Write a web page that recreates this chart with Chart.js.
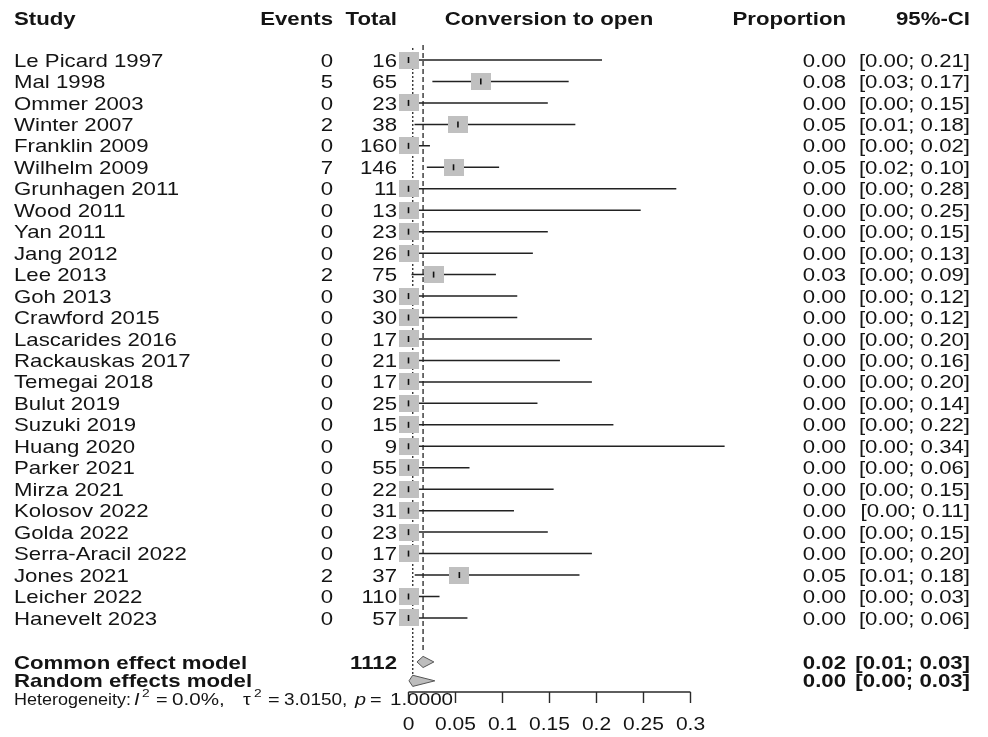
<!DOCTYPE html>
<html>
<head>
<meta charset="utf-8">
<script src="https://cdn.jsdelivr.net/npm/chart.js@4/dist/chart.umd.min.js"></script>
<style>
  body { margin: 0; background: #fff; }
</style>
</head>
<body>
<canvas id="forest" width="988" height="737"></canvas>
<script>
// study data
const studies = ['Le Picard 1997', 'Mal 1998', 'Ommer 2003', 'Winter 2007', 'Franklin 2009', 'Wilhelm 2009',
  'Grunhagen 2011', 'Wood 2011', 'Yan 2011', 'Jang 2012', 'Lee 2013', 'Goh 2013', 'Crawford 2015',
  'Lascarides 2016', 'Rackauskas 2017', 'Temegai 2018', 'Bulut 2019', 'Suzuki 2019', 'Huang 2020',
  'Parker 2021', 'Mirza 2021', 'Kolosov 2022', 'Golda 2022', 'Serra-Aracil 2022', 'Jones 2021',
  'Leicher 2022', 'Hanevelt 2023'];
const events = [0, 5, 0, 2, 0, 7, 0, 0, 0, 0, 2, 0, 0, 0, 0, 0, 0, 0, 0, 0, 0, 0, 0, 0, 2, 0, 0];
const totals = [16, 65, 23, 38, 160, 146, 11, 13, 23, 26, 75, 30, 30, 17, 21, 17, 25, 15, 9, 55, 22, 31, 23, 17, 37, 110, 57];
const props = [0, 0.0769, 0, 0.0526, 0, 0.0479, 0, 0, 0, 0, 0.0267, 0, 0, 0, 0, 0, 0, 0, 0, 0, 0, 0, 0, 0, 0.0541, 0, 0];
const lower = [0, 0.0254, 0, 0.0064, 0, 0.0195, 0, 0, 0, 0, 0.0032, 0, 0, 0, 0, 0, 0, 0, 0, 0, 0, 0, 0, 0, 0.0066, 0, 0];
const upper = [0.2059, 0.1704, 0.1482, 0.1775, 0.0228, 0.0964, 0.2849, 0.2470, 0.1482, 0.1323, 0.0930, 0.1157, 0.1157,
  0.1951, 0.1611, 0.1951, 0.1372, 0.2180, 0.3363, 0.0649, 0.1544, 0.1122, 0.1482, 0.1951, 0.1819, 0.0330, 0.0627];

// pooled estimates: [estimate, lower, upper]
const commonEffect = [0.0155, 0.009, 0.027];
const randomEffect = [0.0045, 0.0005, 0.028];
const totalN = 1112;
const hetI2 = '0.0%', hetTau2 = '3.0150', hetP = '1.0000';

const xTicks = [0, 0.05, 0.1, 0.15, 0.2, 0.25, 0.3];
const xTickLabels = ['0', '0.05', '0.1', '0.15', '0.2', '0.25', '0.3'];

// layout (rows on the y scale, 0 = first study)
const ROW_HEADER = -1.92, ROW_COMMON = 28.05, ROW_RANDOM = 28.93, ROW_HET = 29.76, ROW_AXIS = 29.45;
const SX = 1.2; // the reference text is stretched sideways
const TEXT_DY = 1.5;
const FONT = '18.5px "Liberation Sans", Arial, sans-serif';
const BOLD = 'bold 18.5px "Liberation Sans", Arial, sans-serif';
const INK = '#141414';

function fmt(v) { return v.toFixed(2); }
function ci(lo, hi) { return '[' + fmt(lo) + '; ' + fmt(hi) + ']'; }

function put(ctx, s, x, y, align, font, sx) {
  ctx.save();
  ctx.font = font;
  ctx.fillStyle = INK;
  ctx.textBaseline = 'middle';
  ctx.textAlign = align;
  ctx.translate(x, y + TEXT_DY);
  ctx.scale(sx || SX, 1);
  ctx.fillText(s, 0, 0);
  ctx.restore();
}

// grey weight box
const box = document.createElement('canvas');
box.width = 20; box.height = 17;
const bctx = box.getContext('2d');
bctx.fillStyle = '#c0c0c0';
bctx.fillRect(0, 0, 20, 17);

const ciData = [];
studies.forEach((s, i) => {
  ciData.push({x: lower[i], y: i}, {x: upper[i], y: i}, {x: null, y: null});
});
const estData = studies.map((s, i) => ({x: props[i], y: i}));

function diamond(d, row) {
  const h = 0.26;
  return [{x: d[1], y: row}, {x: d[0], y: row - h}, {x: d[2], y: row}, {x: d[0], y: row + h}, {x: d[1], y: row}];
}

const tablePlugin = {
  id: 'table',
  afterDraw(chart) {
    const ctx = chart.ctx;
    const xs = chart.scales.x, ys = chart.scales.y;
    const yH = ys.getPixelForValue(ROW_HEADER);

    put(ctx, 'Study', 14, yH, 'left', BOLD);
    put(ctx, 'Events', 333, yH, 'right', BOLD);
    put(ctx, 'Total', 397, yH, 'right', BOLD);
    put(ctx, 'Conversion to open', 549, yH, 'center', BOLD);
    put(ctx, 'Proportion', 846, yH, 'right', BOLD);
    put(ctx, '95%-CI', 970, yH, 'right', BOLD);

    studies.forEach((s, i) => {
      const y = ys.getPixelForValue(i);
      put(ctx, s, 14, y, 'left', FONT);
      put(ctx, String(events[i]), 333, y, 'right', FONT);
      put(ctx, String(totals[i]), 397, y, 'right', FONT);
      put(ctx, fmt(props[i]), 846, y, 'right', FONT);
      put(ctx, ci(lower[i], upper[i]), 970, y, 'right', FONT);
    });

    let y = ys.getPixelForValue(ROW_COMMON);
    put(ctx, 'Common effect model', 14, y, 'left', BOLD);
    put(ctx, String(totalN), 397, y, 'right', BOLD);
    put(ctx, fmt(commonEffect[0]), 846, y, 'right', BOLD);
    put(ctx, ci(commonEffect[1], commonEffect[2]), 970, y, 'right', BOLD);
    y = ys.getPixelForValue(ROW_RANDOM);
    put(ctx, 'Random effects model', 14, y, 'left', BOLD);
    put(ctx, fmt(randomEffect[0]), 846, y, 'right', BOLD);
    put(ctx, ci(randomEffect[1], randomEffect[2]), 970, y, 'right', BOLD);

    // heterogeneity line: [text, x, font, dy, sx]
    const f = '16.5px "Liberation Sans", Arial, sans-serif';
    const fi = 'italic 16.5px "Liberation Sans", Arial, sans-serif';
    const fs = '11.5px "Liberation Sans", Arial, sans-serif';
    const yh = ys.getPixelForValue(ROW_HET);
    [
      ['Heterogeneity:', 14, f, 0, 1.09], ['I', 134, fi, 0, 1.2], ['2', 142, fs, -6, 1.2],
      ['=', 156, f, 0, 1.2], [hetI2 + ',', 172, f, 0, 1.25],
      ['τ', 243, f, 0, 1.2], ['2', 254, fs, -6, 1.2],
      ['=', 268, f, 0, 1.2], [hetTau2 + ',', 284, f, 0, 1.15],
      ['p', 355, fi, 0, 1.2], ['=', 370, f, 0, 1.2], [hetP, 390, f, 0, 1.25]
    ].forEach(r => put(ctx, r[0], r[1], yh + r[3], 'left', r[2], r[4]));

    // x axis, R style
    const yA = ys.getPixelForValue(ROW_AXIS);
    ctx.save();
    ctx.strokeStyle = '#2a2a2a';
    ctx.lineWidth = 1.4;
    ctx.beginPath();
    ctx.moveTo(xs.getPixelForValue(xTicks[0]), yA);
    ctx.lineTo(xs.getPixelForValue(xTicks[xTicks.length - 1]), yA);
    xTicks.forEach(t => {
      const px = xs.getPixelForValue(t);
      ctx.moveTo(px, yA);
      ctx.lineTo(px, yA + 11);
    });
    ctx.stroke();
    ctx.restore();
    xTicks.forEach((t, i) => {
      put(ctx, xTickLabels[i], xs.getPixelForValue(t), yA + 32, 'center', '17.5px "Liberation Sans", Arial, sans-serif');
    });
  }
};

new Chart(document.getElementById('forest'), {
  type: 'scatter',
  data: {
    datasets: [
      {
        label: 'estimate',
        data: estData,
        pointStyle: 'line',
        rotation: 90,
        pointRadius: 3,
        borderWidth: 1.6,
        borderColor: '#111',
        order: 0
      },
      {
        label: 'weight',
        data: estData,
        pointStyle: box,
        pointRadius: 5,
        order: 1
      },
      {
        label: 'common',
        data: diamond(commonEffect, ROW_COMMON),
        showLine: true,
        fill: 'shape',
        backgroundColor: '#bdbdbd',
        borderColor: '#555',
        borderWidth: 1,
        pointRadius: 0,
        order: 1
      },
      {
        label: 'random',
        data: diamond(randomEffect, ROW_RANDOM),
        showLine: true,
        fill: 'shape',
        backgroundColor: '#bdbdbd',
        borderColor: '#555',
        borderWidth: 1,
        pointRadius: 0,
        order: 1
      },
      {
        label: 'ci',
        data: ciData,
        showLine: true,
        spanGaps: false,
        pointRadius: 0,
        borderColor: '#222',
        borderWidth: 1.5,
        order: 2
      },
      {
        label: 'common line',
        data: [{x: commonEffect[0], y: -0.7}, {x: commonEffect[0], y: 27.63}],
        showLine: true,
        pointRadius: 0,
        borderColor: '#333',
        borderWidth: 1.4,
        borderDash: [5, 3],
        order: 3
      },
      {
        label: 'random line',
        data: [{x: randomEffect[0], y: -0.56}, {x: randomEffect[0], y: 28.66}],
        showLine: true,
        pointRadius: 0,
        borderColor: '#333',
        borderWidth: 1.4,
        borderDash: [2, 2],
        order: 3
      }
    ]
  },
  options: {
    responsive: false,
    animation: false,
    events: [],
    layout: { padding: 0, autoPadding: false },
    scales: {
      x: { type: 'linear', display: false, min: -408.5 / 940, max: 579.5 / 940 },
      y: { type: 'linear', display: false, reverse: true, min: -60 / 21.46, max: 677 / 21.46 }
    },
    plugins: {
      legend: { display: false },
      tooltip: { enabled: false }
    }
  },
  plugins: [tablePlugin]
});
</script>
</body>
</html>
